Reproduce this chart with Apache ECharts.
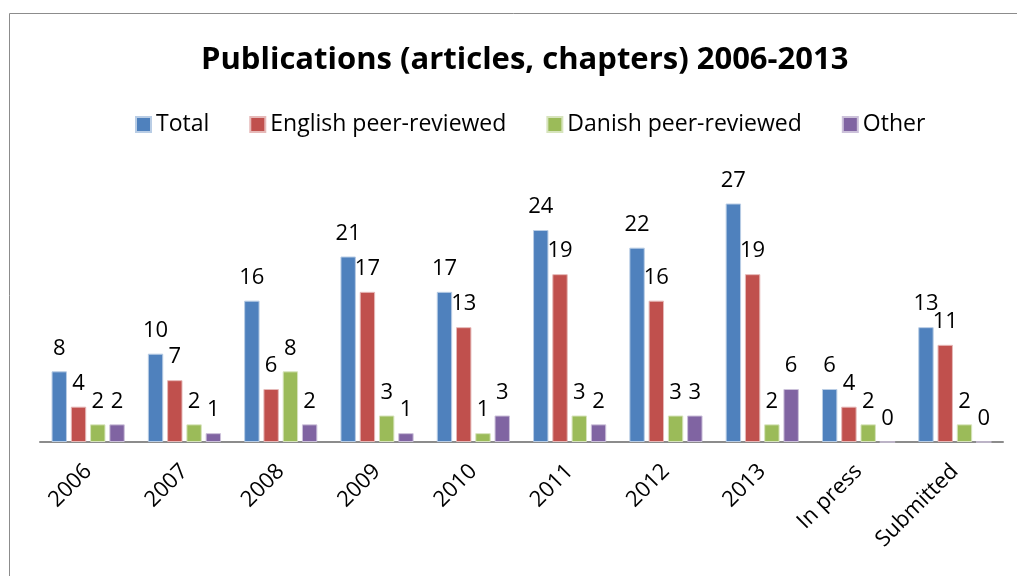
<!DOCTYPE html>
<html>
<head>
<meta charset="utf-8">
<script src="https://cdn.jsdelivr.net/npm/echarts@6/dist/echarts.min.js"></script>
<style>
  html, body { margin: 0; padding: 0; background: #fff; }
  #chart { width: 1017px; height: 576px; }
</style>
</head>
<body>
<div id="chart"></div>
<script>
// categories and values
var categories = ['2006', '2007', '2008', '2009', '2010', '2011', '2012', '2013', 'In press', 'Submitted'];
var total   = [8, 10, 16, 21, 17, 24, 22, 27, 6, 13];
var english = [4, 7, 6, 17, 13, 19, 16, 19, 4, 11];
var danish  = [2, 2, 8, 3, 1, 3, 3, 2, 2, 2];
var other   = [2, 1, 2, 1, 3, 2, 3, 6, 0, 0];

var font = "'Open Sans', 'Noto Sans', sans-serif";

function bar(name, data, color, border) {
  return {
    name: name,
    type: 'bar',
    data: data,
    barGap: '25%',
    barCategoryGap: '24%',
    itemStyle: { color: color, borderColor: border, borderWidth: 1 },
    label: {
      show: true,
      position: 'top',
      distance: 12,
      color: '#000',
      fontSize: 22,
      fontFamily: font
    }
  };
}

var myChart = echarts.init(document.getElementById('chart'));
myChart.setOption({
  animation: false,
  graphic: [{
    type: 'rect',
    shape: { x: 9.5, y: 13.5, width: 1100, height: 700 },
    style: { fill: 'none', stroke: '#8c8c8c', lineWidth: 1 },
    silent: true
  }],
  title: {
    text: 'Publications (articles, chapters) 2006-2013',
    left: 196,
    top: 40,
    textStyle: { fontSize: 31, fontWeight: 'bold', color: '#000', fontFamily: font }
  },
  legend: {
    top: 108,
    left: 130,
    itemWidth: 15,
    itemHeight: 15,
    itemGap: 40,
    icon: 'rect',
    textStyle: { fontSize: 23, color: '#000', fontFamily: font },
    data: ['Total', 'English peer-reviewed', 'Danish peer-reviewed', 'Other']
  },
  grid: { left: 40, right: 14, top: 177, bottom: 134 },
  xAxis: {
    type: 'category',
    data: categories,
    axisLine: { lineStyle: { color: '#8c8c8c', width: 2 } },
    axisTick: { show: false },
    axisLabel: {
      rotate: 45,
      margin: 26,
      color: '#000',
      fontSize: 22,
      fontFamily: font
    }
  },
  yAxis: {
    type: 'value',
    min: 0,
    max: 30,
    show: false,
    splitLine: { show: false }
  },
  series: [
    bar('Total', total, '#4F81BD', '#b9cde5'),
    bar('English peer-reviewed', english, '#C0504D', '#e6b9b8'),
    bar('Danish peer-reviewed', danish, '#9BBB59', '#d7e4bd'),
    bar('Other', other, '#8064A2', '#ccc1da')
  ]
});
</script>
</body>
</html>
